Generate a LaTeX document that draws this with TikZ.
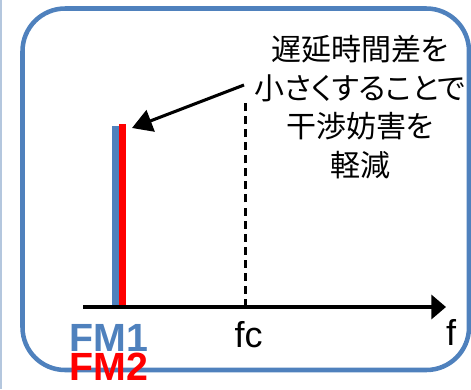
\documentclass[tikz,border=0pt]{standalone}
\usepackage{fontspec}
\setmainfont{Liberation Sans}
\newfontfamily\jpfont[RawFeature={+palt}]{Noto Sans CJK JP}
\usepackage{tikz}
\usetikzlibrary{arrows.meta}

\definecolor{fmblue}{RGB}{79,129,189}
\definecolor{edgeblue}{RGB}{180,199,222}

\begin{document}
\begin{tikzpicture}[x=0.75pt,y=0.75pt,yscale=-1,xscale=1,
  fmbar/.style={line width=5pt},
  axisline/.style={line width=3pt,-{Triangle[length=11pt,width=18pt]}},
  latinlbl/.style={inner sep=0pt,font=\fontsize{27}{27}\selectfont},
  fmlbl/.style={inner sep=0pt,anchor=base west,font=\bfseries\fontsize{29.5}{29.5}\selectfont}]
\useasboundingbox (0,0) rectangle (471,389);

%Straight Lines [id:edge]
\draw [color=edgeblue,line width=1.2pt] (1,0) -- (1,389) ;
%Shape: Rounded Rectangle [id:frame]
\draw [color=fmblue,line width=3.4pt,rounded corners=32pt] (22.5,8.5) rectangle (469,370) ;

%Coordinates
\coordinate (axstart) at (83,307);
\coordinate (axend) at (446,307);
\coordinate (fmonetop) at (115.5,126);
\coordinate (fmonebot) at (115.5,307);
\coordinate (fmtwotop) at (122.5,124);
\coordinate (fmtwobot) at (122.5,307);
\coordinate (fctop) at (245.7,103);
\coordinate (fcbot) at (245.7,307);
\coordinate (arrowtip) at (132,128);

%Straight Lines [id:fm1]
\draw [fmbar,color=fmblue] (fmonebot) -- (fmonetop) ;
%Straight Lines [id:fm2]
\draw [fmbar,color=red] (fmtwobot) -- (fmtwotop) ;
%Straight Lines [id:fc]
\draw [line width=1.9pt,dash pattern=on 6pt off 3.8pt] (fcbot) -- (fctop) ;
%Straight Lines [id:axis]
\draw [axisline] (axstart) -- (axend) ;

% Text Node
\draw (360,107) node [align=center,inner sep=0pt,font=\jpfont\fontsize{22.5}{29}\selectfont] (note) {遅延時間差を\\小さくすることで\\干渉妨害を\\軽減};
%Straight Lines [id:pointer]
\coordinate (arrowstart) at (244,85);
\draw [line width=2.3pt,-{Triangle[length=15pt,width=17pt]}] (arrowstart) -- (arrowtip) ;

% Text Node
\draw (69.5,351) node [fmlbl,color=fmblue] (fmone) {FM1};
% Text Node
\draw (69.5,380) node [fmlbl,color=red] (fmtwo) {FM2};
% Text Node
\draw (248.5,347) node [latinlbl,anchor=base] (fclbl) {fc};
% Text Node
\draw (451,345) node [latinlbl,anchor=base] (flbl) {f};

\end{tikzpicture}
\end{document}
